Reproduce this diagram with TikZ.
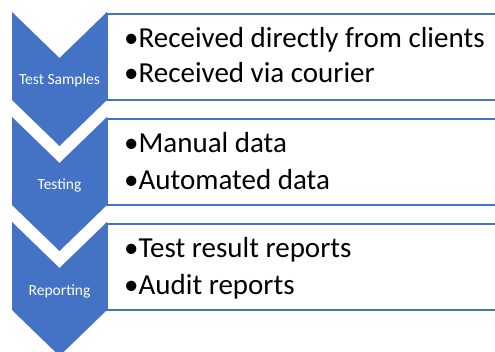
\documentclass[tikz,border=0pt]{standalone}
\usepackage{fontspec}
\setmainfont{Carlito}
\definecolor{accent}{HTML}{4472C4}
\tikzset{
  chev/.style={fill=accent, draw=none},
  listbox/.style={draw=accent, line width=2.5pt, fill=white},
  lbl/.style={text=white, font=\fontsize{15.5}{18}\selectfont, inner sep=0pt},
  item/.style={anchor=base west, font=\fontsize{29}{35}\selectfont, inner sep=0pt, text=black}
}
\begin{document}
\begin{tikzpicture}[x=1pt, y=-1pt]
\useasboundingbox (0,0) rectangle (495,351);
\clip (0,0) rectangle (495,351);
% list boxes
\draw[listbox] (107,14) rectangle (505,100);
\draw[listbox] (107,119) rectangle (505,205);
\draw[listbox] (107,224) rectangle (505,310);
% chevrons
\foreach \t/\b in {12/100, 117/205, 222/310} {
  \fill[chev] (12,\t) -- (59.5,\t+46) -- (107,\t) -- (107,\b) -- (59.5,\b+46) -- (12,\b) -- cycle;
}
% chevron labels
\node[lbl] (l1) at (59.5,80) {Test Samples};
\node[lbl] (l2) at (59.5,185) {Testing};
\node[lbl] (l3) at (59.5,291) {Reporting};
% items
\node[item] (a1) at (124,47) {•Received directly from clients};
\node[item] (a2) at (124,82) {•Received via courier};
\node[item] (b1) at (124,152) {•Manual data};
\node[item] (b2) at (124,189) {•Automated data};
\node[item] (c1) at (124,257) {•Test result reports};
\node[item] (c2) at (124,294) {•Audit reports};
\end{tikzpicture}
\end{document}
